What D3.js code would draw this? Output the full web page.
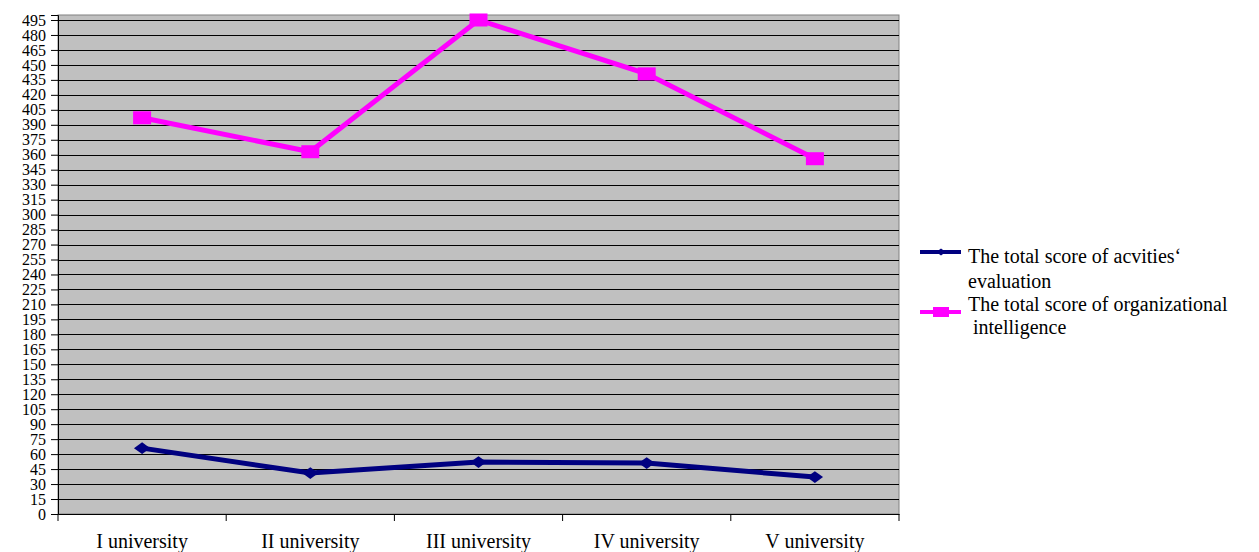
<!DOCTYPE html>
<html>
<head>
<meta charset="utf-8">
<script src="https://cdn.jsdelivr.net/npm/d3@7"></script>
<style>
body { margin: 0; background: #fff; }
svg text { font-family: "Liberation Serif", "Times New Roman", Times, "DejaVu Serif", serif !important; }
</style>
</head>
<body>
<div id="chart"></div>
<script>
"use strict";
var w = 1259;
var h = 552;

// data
var categories = ["I university", "II university", "III university", "IV university", "V university"];
var activities = [66, 41, 52, 51, 37];
var intelligence = [397, 363, 495, 441, 356];
var yTicks = d3.range(0, 496, 15);
var seriesNames = [["The total score of acvities\u2018", "evaluation"],
                   ["The total score of organizational", "\u00a0intelligence"]];

var plot = {left: 58, right: 899, top: 15, bottom: 514};

var svg = d3.select("#chart")
    .append("svg")
    .attr("width", w)
    .attr("height", h);

var x = d3.scaleBand()
    .domain(categories)
    .range([plot.left, plot.right]);

var y = d3.scaleLinear()
    .domain([0, 500])
    .range([plot.bottom, plot.top]);

// plot background
svg.append("rect")
    .attr("x", plot.left)
    .attr("y", plot.top)
    .attr("width", plot.right - plot.left)
    .attr("height", plot.bottom - plot.top)
    .attr("fill", "#c0c0c0")
    .attr("stroke", "#808080")
    .attr("stroke-width", 1);

// grid lines
svg.append("g")
    .selectAll("line")
    .data(yTicks.filter(function(d){ return d > 0; }))
    .enter()
    .append("line")
    .attr("x1", plot.left)
    .attr("x2", plot.right)
    .attr("y1", function(d){ return Math.round(y(d)) + 0.5; })
    .attr("y2", function(d){ return Math.round(y(d)) + 0.5; })
    .attr("stroke", "#000")
    .attr("stroke-width", 1);

// y axis
var yAxis = d3.axisLeft(y)
    .tickValues(yTicks)
    .tickSize(7)
    .tickPadding(5)
    .tickFormat(d3.format("d"));
var gy = svg.append("g")
    .attr("transform", "translate(" + plot.left + ",0)")
    .call(yAxis);
gy.select(".domain").attr("stroke", "#000");
gy.selectAll(".tick line").attr("stroke", "#000");
gy.selectAll("text")
    .attr("font-size", 16)
    .attr("fill", "#000");

// x axis
var xAxis = d3.axisBottom(x)
    .tickSize(0)
    .tickPadding(20);
var gx = svg.append("g")
    .attr("transform", "translate(0," + plot.bottom + ")")
    .call(xAxis);
gx.select(".domain").attr("stroke", "#000");
gx.selectAll("text")
    .attr("font-size", 20)
    .attr("fill", "#000");
// boundary ticks between categories
gx.selectAll(".sep")
    .data(categories.concat(["end"]))
    .enter()
    .append("line")
    .attr("class", "sep")
    .attr("x1", function(d, i){ return plot.left + i * x.step(); })
    .attr("x2", function(d, i){ return plot.left + i * x.step(); })
    .attr("y1", 0)
    .attr("y2", 7)
    .attr("stroke", "#000");

var line = d3.line()
    .x(function(d, i){ return x(categories[i]) + x.bandwidth() / 2; })
    .y(function(d){ return y(d); });

// activities series (navy, diamonds)
svg.append("path")
    .datum(activities)
    .attr("d", line)
    .attr("fill", "none")
    .attr("stroke", "#000080")
    .attr("stroke-width", 5);
svg.append("g")
    .selectAll("path")
    .data(activities)
    .enter()
    .append("path")
    .attr("d", d3.symbol().type(d3.symbolDiamond2).size(140))
    .attr("transform", function(d, i){
        return "translate(" + (x(categories[i]) + x.bandwidth() / 2) + "," + y(d) + ") scale(1.1,0.8)";
    })
    .attr("fill", "#000080");

// intelligence series (magenta, squares)
svg.append("path")
    .datum(intelligence)
    .attr("d", line)
    .attr("fill", "none")
    .attr("stroke", "#ff00ff")
    .attr("stroke-width", 5);
svg.append("g")
    .selectAll("rect")
    .data(intelligence)
    .enter()
    .append("rect")
    .attr("x", function(d, i){ return x(categories[i]) + x.bandwidth() / 2 - 9; })
    .attr("y", function(d){ return y(d) - 6.5; })
    .attr("width", 18)
    .attr("height", 13)
    .attr("fill", "#ff00ff");

// legend
var legend = svg.append("g");
var legendItems = [
    {color: "#000080", y: 252, text: [263, 288], lines: seriesNames[0]},
    {color: "#ff00ff", y: 312, text: [311, 334], lines: seriesNames[1]}
];
legendItems.forEach(function(item, k){
    legend.append("line")
        .attr("x1", 920).attr("x2", 961)
        .attr("y1", item.y).attr("y2", item.y)
        .attr("stroke", item.color)
        .attr("stroke-width", 4);
    if (k === 0) {
        legend.append("path")
            .attr("d", d3.symbol().type(d3.symbolDiamond2).size(40))
            .attr("transform", "translate(941," + item.y + ") scale(1.2,0.9)")
            .attr("fill", item.color);
    } else {
        legend.append("rect")
            .attr("x", 933).attr("y", item.y - 5)
            .attr("width", 16).attr("height", 10)
            .attr("fill", item.color);
    }
    item.lines.forEach(function(t, j){
        legend.append("text")
            .attr("x", 968)
            .attr("y", item.text[j])
            .attr("font-size", 20)
            .attr("fill", "#000")
            .text(t);
    });
});
</script>
</body>
</html>
